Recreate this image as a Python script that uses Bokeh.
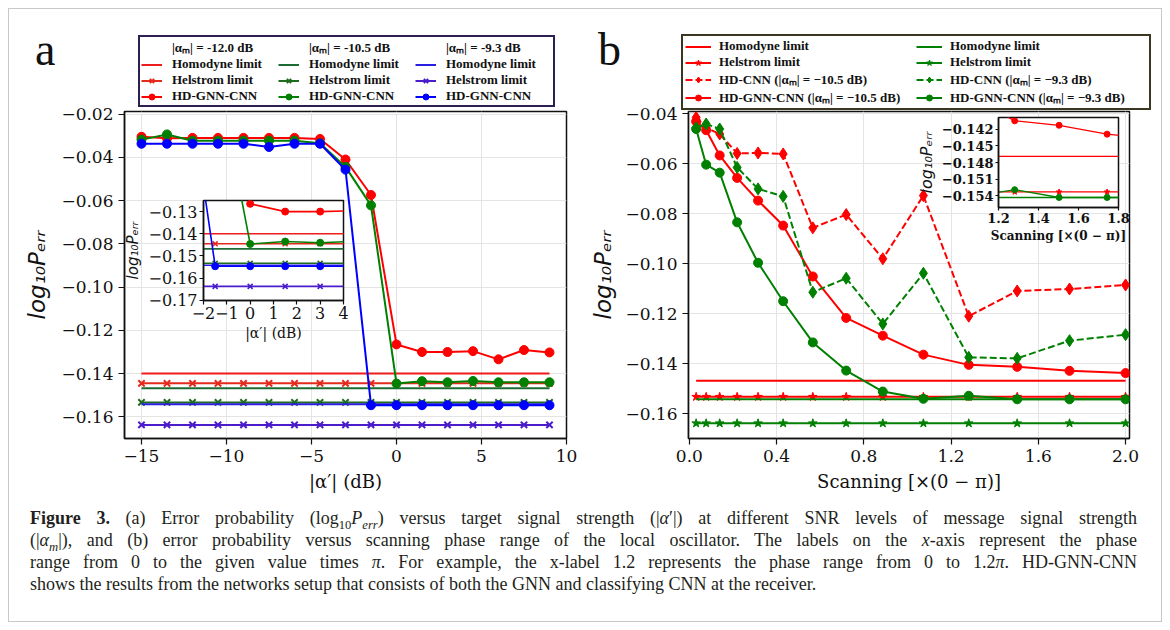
from bokeh.plotting import figure
from bokeh.models import Range1d, FixedTicker, CustomJSTickFormatter, Legend, LegendItem, Div
from bokeh.embed import file_html
from bokeh.resources import INLINE

# ---------------- Panel (a) data ----------------
alpha_prime_db = [-15, -13.5, -12, -10.5, -9, -7.5, -6, -4.5, -3, -1.5, 0, 1.5, 3, 4.5, 6, 7.5, 9]
alpha_m_labels_a = ["|αₘ| = -12.0 dB", "|αₘ| = -10.5 dB", "|αₘ| = -9.3 dB"]
hd_gnn_cnn_a_m120 = [-0.0305, -0.0312, -0.0310, -0.0310, -0.0310, -0.0310, -0.0310, -0.0315, -0.0410,
                     -0.0574, -0.1265, -0.1300, -0.1300, -0.1296, -0.1334, -0.1291, -0.1302]
hd_gnn_cnn_a_m105 = [-0.0318, -0.0294, -0.0323, -0.0323, -0.0323, -0.0323, -0.0323, -0.0335, -0.0444,
                     -0.0622, -0.1446, -0.1435, -0.1440, -0.1434, -0.1440, -0.1440, -0.1440]
hd_gnn_cnn_a_m93 = [-0.0337, -0.0337, -0.0337, -0.0337, -0.0337, -0.0352, -0.0337, -0.0337, -0.0457,
                    -0.1546, -0.1546, -0.1546, -0.1546, -0.1546, -0.1546, -0.1546, -0.1546]
homodyne_limit_a = [-0.1400, -0.1468, -0.1542]
helstrom_limit_a = [-0.1445, -0.1533, -0.1637]
legend_labels_a = ["Homodyne limit", "Helstrom limit", "HD-GNN-CNN"]

# ---------------- Panel (b) data ----------------
scanning_range = [0.031, 0.077, 0.139, 0.219, 0.315, 0.430, 0.566, 0.719, 0.887, 1.073, 1.281, 1.503, 1.743, 2.000]
hd_cnn_m105 = [-0.0414, -0.0455, -0.0480, -0.0558, -0.0556, -0.0560, -0.0856, -0.0803, -0.0980, -0.0727,
               -0.1210, -0.1109, -0.1101, -0.1085]
hd_cnn_m93 = [-0.0455, -0.0440, -0.0460, -0.0614, -0.0700, -0.0730, -0.1114, -0.1058, -0.1241, -0.1038,
              -0.1375, -0.1379, -0.1308, -0.1284]
hd_gnn_cnn_b_m105 = [-0.0430, -0.0465, -0.0566, -0.0656, -0.0747, -0.0847, -0.1051, -0.1217, -0.1288,
                     -0.1364, -0.1405, -0.1413, -0.1429, -0.1438]
hd_gnn_cnn_b_m93 = [-0.0460, -0.0603, -0.0635, -0.0834, -0.0996, -0.1150, -0.1315, -0.1428, -0.1512,
                    -0.1541, -0.1529, -0.1543, -0.1543, -0.1543]
homodyne_limit_b = [-0.1469, -0.1543]
helstrom_limit_b = [-0.1533, -0.1639]
legend_labels_b = [
    ["Homodyne limit", "Helstrom limit", "HD-CNN (|αₘ| = −10.5 dB)", "HD-GNN-CNN (|αₘ| = −10.5 dB)"],
    ["Homodyne limit", "Helstrom limit", "HD-CNN (|αₘ| = −9.3 dB)", "HD-GNN-CNN (|αₘ| = −9.3 dB)"],
]

# ---------------- ticks ----------------
xticks_a = [-15, -10, -5, 0, 5, 10]
yticks_a = [-0.16, -0.14, -0.12, -0.10, -0.08, -0.06, -0.04, -0.02]
xticks_inset_a = [-2, -1, 0, 1, 2, 3, 4]
yticks_inset_a = [-0.17, -0.16, -0.15, -0.14, -0.13]
xticks_b = [0.0, 0.4, 0.8, 1.2, 1.6, 2.0]
yticks_b = [-0.16, -0.14, -0.12, -0.10, -0.08, -0.06, -0.04]
xticks_inset_b = [1.2, 1.4, 1.6, 1.8]
yticks_inset_b = [-0.154, -0.151, -0.148, -0.145, -0.142]

SERIF = "DejaVu Serif"
SANS = "DejaVu Sans"
RED, GREEN, BLUE = "#ff0000", "#008000", "#0000ff"
HD_COL_A = [RED, GREEN, BLUE]
HOM_COL_A = ["#ee1c1c", "#1d6b35", "#2a1ee0"]
HEL_COL_A = ["#e32a1c", "#1f6b1f", "#4a1ccc"]
COL_B = [RED, GREEN]
YLABEL = "log₁₀Pₑᵣᵣ"


def fmt(nd):
    return CustomJSTickFormatter(
        code=f"const s = Math.abs(tick).toFixed({nd}); return (tick < -1e-12 ? '\\u2212' : '') + s;")


def make_fig(xr, yr, w, h, bl, br, bt, bb):
    p = figure(width=w, height=h, x_range=Range1d(*xr), y_range=Range1d(*yr),
               output_backend="svg", toolbar_location=None, title=None,
               min_border_left=bl, min_border_right=br, min_border_top=bt, min_border_bottom=bb)
    p.border_fill_color = None
    p.background_fill_color = "white"
    p.outline_line_color = "#111111"
    p.outline_line_width = 1.5
    p.outline_line_alpha = 1.0
    return p


def style_axes(p, xticks, yticks, xnd, ynd, tick_fs, xlab, ylab, xl_fs, yl_fs,
               tick_out, lab_so, xl_so, yl_so, grid, bold=False):
    p.xaxis.ticker = FixedTicker(ticks=xticks)
    p.yaxis.ticker = FixedTicker(ticks=yticks)
    p.xaxis.formatter = fmt(xnd)
    p.yaxis.formatter = fmt(ynd)
    for ax in (p.xaxis[0], p.yaxis[0]):
        ax.axis_line_color = "#111111"
        ax.axis_line_width = 1.5
        ax.major_tick_line_color = "#111111"
        ax.major_tick_line_width = 1.2
        ax.major_tick_out = tick_out
        ax.major_tick_in = 0
        ax.minor_tick_line_color = None
        ax.major_label_text_font = SERIF
        ax.major_label_text_font_size = f"{tick_fs}px"
        ax.major_label_text_color = "#111111"
        ax.major_label_text_font_style = "bold" if bold else "normal"
        ax.major_label_standoff = lab_so
    p.xaxis.axis_label = xlab
    p.xaxis.axis_label_text_font = SERIF
    p.xaxis.axis_label_text_font_style = "bold" if bold else "normal"
    p.xaxis.axis_label_text_font_size = f"{xl_fs}px"
    p.xaxis.axis_label_text_color = "#111111"
    p.xaxis.axis_label_standoff = xl_so
    p.yaxis.axis_label = ylab
    p.yaxis.axis_label_text_font = SANS
    p.yaxis.axis_label_text_font_style = "italic"
    p.yaxis.axis_label_text_font_size = f"{yl_fs}px"
    p.yaxis.axis_label_text_color = "#111111"
    p.yaxis.axis_label_standoff = yl_so
    if grid:
        p.xgrid.grid_line_color = "#e4e4e4"
        p.ygrid.grid_line_color = "#e4e4e4"
        p.xgrid.grid_line_width = 1
        p.ygrid.grid_line_width = 1
    else:
        p.xgrid.grid_line_color = None
        p.ygrid.grid_line_color = None


def draw_a(p, lw, ms_x, ms_c):
    x = alpha_prime_db
    hd_series = [hd_gnn_cnn_a_m120, hd_gnn_cnn_a_m105, hd_gnn_cnn_a_m93]
    out = []
    for k in range(3):
        hx = [x[0], x[-1]]
        hom = p.line(hx, [homodyne_limit_a[k]] * len(hx), line_color=HOM_COL_A[k], line_width=lw)
        hel_y = [helstrom_limit_a[k]] * len(x)
        hel_l = p.line(x, hel_y, line_color=HEL_COL_A[k], line_width=lw)
        hel_m = p.scatter(x, hel_y, marker="x", size=ms_x, line_color=HEL_COL_A[k], line_width=lw)
        hd_l = p.line(x, hd_series[k], line_color=HD_COL_A[k], line_width=lw)
        hd_m = p.scatter(x, hd_series[k], marker="circle", size=ms_c, fill_color=HD_COL_A[k],
                         line_color=HD_COL_A[k])
        out.append(([hom], [hel_l, hel_m], [hd_l, hd_m]))
    return out


def draw_b(p, lw, ms_star, ms_d, ms_c, dash):
    x = scanning_range
    cnn = [hd_cnn_m105, hd_cnn_m93]
    gnn = [hd_gnn_cnn_b_m105, hd_gnn_cnn_b_m93]
    out = []
    for k in range(2):
        c = COL_B[k]
        hx = [x[0], x[-1]]
        hom = p.line(hx, [homodyne_limit_b[k]] * len(hx), line_color=c, line_width=lw)
        hel_y = [helstrom_limit_b[k]] * len(x)
        hel_l = p.line(x, hel_y, line_color=c, line_width=lw)
        hel_m = p.scatter(x, hel_y, marker="star", size=ms_star, fill_color=c, line_color=c)
        cnn_l = p.line(x, cnn[k], line_color=c, line_width=lw, line_dash=dash)
        cnn_m = p.scatter(x, cnn[k], marker="diamond", size=ms_d, fill_color=c, line_color=c)
        gnn_l = p.line(x, gnn[k], line_color=c, line_width=lw)
        gnn_m = p.scatter(x, gnn[k], marker="circle", size=ms_c, fill_color=c, line_color=c)
        out.append(([hom], [hel_l, hel_m], [cnn_l, cnn_m], [gnn_l, gnn_m]))
    return out


def legend_fig(w, h):
    # a figure whose only visible content is its legend (data lie outside its ranges)
    p = figure(width=w, height=h, x_range=Range1d(100, 101), y_range=Range1d(100, 101),
               output_backend="svg", toolbar_location=None, title=None, min_border=0,
               x_axis_location=None, y_axis_location=None)
    for g in p.grid:
        g.visible = False
    p.outline_line_color = None
    p.background_fill_color = None
    p.border_fill_color = None
    return p


def place(obj, x, y):
    obj.styles = {"position": "absolute", "left": f"{x}px", "top": f"{y}px"}


LEG_STYLE = dict(label_text_font="Liberation Serif", label_text_font_style="bold",
                 label_text_font_size="13px", label_text_color="#111111",
                 border_line_width=2, border_line_alpha=1.0,
                 background_fill_color="white", background_fill_alpha=1.0,
                 spacing=0, margin=2, orientation="vertical", location="top_left")

# ---------------- Panel (a) main ----------------
pA = make_fig((-16, 10), (-0.17, -0.0188), 560, 480, 104, 14, 91, 62)
style_axes(pA, xticks_a, yticks_a, 0, 2, 17, "|α′| (dB)", YLABEL, 18, 23, 6, 5, 6, 8, True)
draw_a(pA, 2, 9, 9)

# legend (a)
gA = legend_fig(430, 76)
rLA = draw_a(gA, 2, 9, 9)
dummyA = gA.line([], [], line_alpha=0)
itemsA = []
for k in range(3):
    itemsA.append(LegendItem(label=alpha_m_labels_a[k], renderers=[dummyA]))
    for j in range(3):
        itemsA.append(LegendItem(label=legend_labels_a[j], renderers=rLA[k][j]))
legA = Legend(items=itemsA, ncols=3, glyph_width=21, glyph_height=15, label_height=15, label_width=106,
              label_standoff=10, padding=1, border_line_color="#2c2050", **LEG_STYLE)
gA.add_layout(legA)

# ---------------- Panel (a) inset ----------------
iA = make_fig((-2.0001, 4.0001), (-0.17005, -0.125), 237, 160, 85, 12, 8, 52)
style_axes(iA, xticks_inset_a, yticks_inset_a, 0, 2, 16, "|α′| (dB)", YLABEL, 14, 15, 4, 2, 3, 3, False)
draw_a(iA, 1.6, 7, 7)

# ---------------- Panel (b) main ----------------
pB = make_fig((-0.004, 2.018), (-0.17, -0.039), 565, 480, 103, 21, 91, 62)
style_axes(pB, xticks_b, yticks_b, 1, 2, 17, "Scanning [×(0 − π)]", YLABEL, 18, 23, 6, 5, 6, 6, True)
draw_b(pB, 2, 9, 12, 9, "7 3")

# legend (b)
gB = legend_fig(478, 78)
rLB = draw_b(gB, 2, 9, 12, 9, "7 3")
itemsB = []
for k in range(2):
    for j in range(4):
        itemsB.append(LegendItem(label=legend_labels_b[k][j], renderers=rLB[k][j]))
legB = Legend(items=itemsB, ncols=2, glyph_width=26, glyph_height=15, label_height=15, label_width=197,
              label_standoff=8, padding=2, border_line_color="#3b3622", **LEG_STYLE)
gB.add_layout(legB)

# ---------------- Panel (b) inset ----------------
iB = make_fig((1.2, 1.8), (-0.1561, -0.1399), 225, 138, 78, 20, 8, 40)
style_axes(iB, xticks_inset_b, yticks_inset_b, 1, 3, 13, "Scanning [×(0 − π)]", YLABEL, 12, 16, 3, 2, 3, 3,
           False, bold=True)
draw_b(iB, 1.3, 6, 7, 6, "5 2")

# ---------------- texts ----------------
FONT_LAB = "font-family:'Liberation Serif';font-size:46px;line-height:46px;color:#111"
lab_a = Div(text=f'<div style="{FONT_LAB}">a</div>', width=40, height=50, margin=0)
lab_b = Div(text=f'<div style="{FONT_LAB}">b</div>', width=40, height=50, margin=0)

SUB = '<sub style="font-size:70%;line-height:0">'
caption_lines = [
    "<b>Figure 3.</b> (a) Error probability (log" + SUB + "10</sub><i>P" + SUB + "err</sub></i>) versus target "
    "signal strength (|<i>α</i>′|) at different SNR levels of message signal strength",
    "(|<i>α" + SUB + "m</sub></i>|), and (b) error probability versus scanning phase range of the local oscillator. "
    "The labels on the <i>x</i>-axis represent the phase",
    "range from 0 to the given value times <i>π</i>. For example, the x-label 1.2 represents the phase range from "
    "0 to 1.2<i>π</i>. HD-GNN-CNN",
    "shows the results from the networks setup that consists of both the GNN and classifying CNN at the receiver.",
]
JUST = '<div style="text-align:justify;text-align-last:justify">'
LEFT = '<div style="text-align:left">'
caption_html = ('<div style="font-family:\'Liberation Serif\';font-size:18px;line-height:22px;'
                'color:#231f20;width:1107px">'
                + "".join(JUST + ln + "</div>" for ln in caption_lines[:-1])
                + LEFT + caption_lines[-1] + "</div></div>")
caption = Div(text=caption_html, width=1110, height=92, margin=0)

frame_box = Div(text="", width=1154, height=614, margin=0)
frame_box.styles = {"position": "absolute", "left": "8px", "top": "8px", "border": "1px solid #c8c8c8",
                    "box-sizing": "border-box", "background-color": "white"}

place(pA, 20, 20)
place(pB, 585, 20)
place(gA, 136, 33)
place(gB, 679, 32)
place(iA, 118, 192)
place(iB, 913, 109)
place(lab_a, 35, 27)
place(lab_b, 598, 27)
place(caption, 30, 507)

roots = [frame_box, pA, pB, gA, gB, iA, iB, lab_a, lab_b, caption]
open("out.html", "w").write(file_html(roots, INLINE))
